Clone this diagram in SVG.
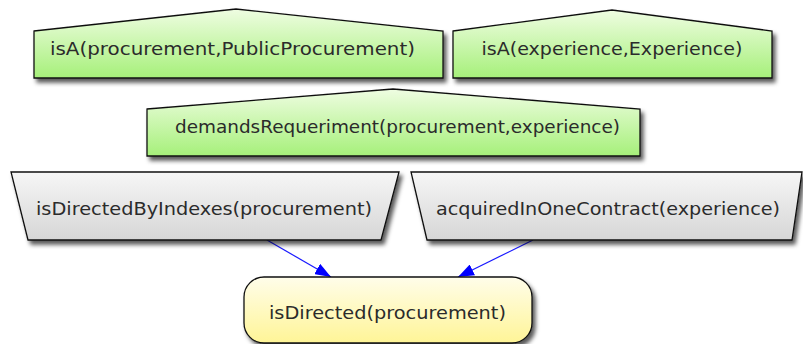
<svg xmlns="http://www.w3.org/2000/svg" width="803" height="344" viewBox="0 0 803 344">
<style>
.node{stroke:#111;stroke-width:1.3;filter:url(#sh)}
.g{fill:url(#gGreen)}
.s{fill:url(#gGray)}
.y{fill:url(#gYellow)}
text{font-family:"DejaVu Sans","Open Sans",sans-serif;font-size:18px;fill:#2b2b2b;text-anchor:middle}
.edge{stroke:#1a1aff;stroke-width:1.2;fill:none;marker-end:url(#arr)}
</style>
<defs>
<linearGradient id="gGreen" x1="0" y1="0" x2="0" y2="1">
<stop offset="0" stop-color="#effde2"/><stop offset="1" stop-color="#a6f07a"/>
</linearGradient>
<linearGradient id="gGray" x1="0" y1="0" x2="0" y2="1">
<stop offset="0" stop-color="#f6f6f6"/><stop offset="1" stop-color="#d6d6d6"/>
</linearGradient>
<linearGradient id="gYellow" x1="0" y1="0" x2="0" y2="1">
<stop offset="0" stop-color="#fffdea"/><stop offset="1" stop-color="#fff597"/>
</linearGradient>
<filter id="sh" x="-10%" y="-20%" width="125%" height="150%">
<feDropShadow dx="3" dy="4" stdDeviation="2" flood-color="#000" flood-opacity="0.65"/>
</filter>
<marker id="arr" viewBox="0 0 16 12" refX="16" refY="6" markerWidth="16" markerHeight="12" markerUnits="userSpaceOnUse" orient="auto">
<path d="M0,0 L16,6 L0,12 Z" fill="#0000ff"/>
</marker>
</defs>
<g id="connectors">
<line class="edge" x1="267" y1="240" x2="331" y2="277"/>
<line class="edge" x1="533" y1="240" x2="458" y2="277"/>
</g>
<g id="n1">
<polygon class="node g" points="34,31 236,9 443,31 443,78 34,78"/>
<text x="232.5" y="55" textLength="365" lengthAdjust="spacingAndGlyphs">isA(procurement,PublicProcurement)</text>
</g>
<g id="n2">
<polygon class="node g" points="453,31 612,10 772,31 772,78 453,78"/>
<text x="612" y="55" textLength="261" lengthAdjust="spacingAndGlyphs">isA(experience,Experience)</text>
</g>
<g id="n3">
<polygon class="node g" points="147,109 393,89 640,109 640,156 147,156"/>
<text x="397.5" y="133" textLength="445" lengthAdjust="spacingAndGlyphs">demandsRequeriment(procurement,experience)</text>
</g>
<g id="n4">
<polygon class="node s" points="11,172 399,172 381,240 28,240"/>
<text x="204" y="215" textLength="336" lengthAdjust="spacingAndGlyphs">isDirectedByIndexes(procurement)</text>
</g>
<g id="n5">
<polygon class="node s" points="411,172 802,172 792,240 427,240"/>
<text x="608" y="215" textLength="344" lengthAdjust="spacingAndGlyphs">acquiredInOneContract(experience)</text>
</g>
<g id="n6">
<rect class="node y" x="244" y="277" width="288" height="66" rx="20" ry="20"/>
<text x="387.5" y="319" textLength="237" lengthAdjust="spacingAndGlyphs">isDirected(procurement)</text>
</g>
</svg>
